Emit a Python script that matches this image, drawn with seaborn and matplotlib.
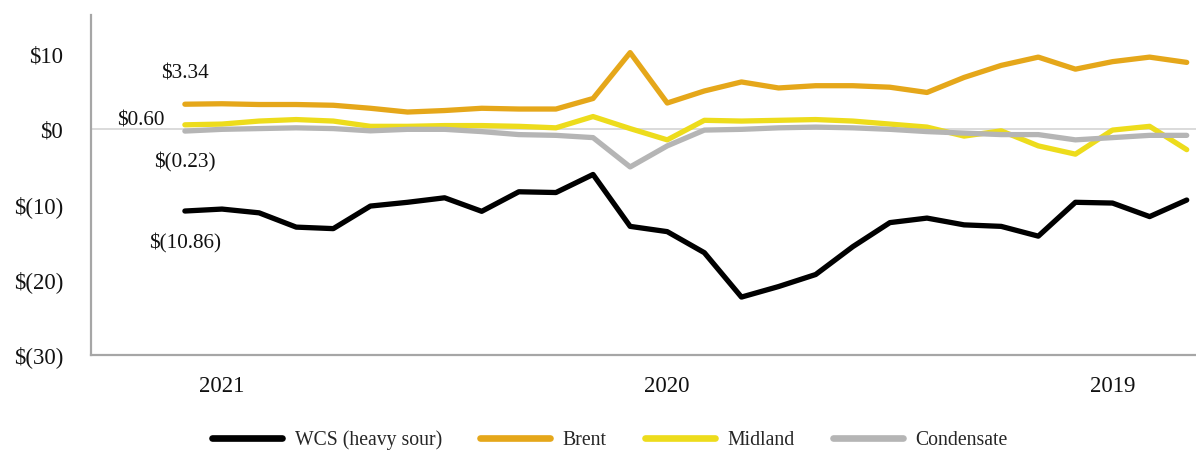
import matplotlib
matplotlib.use("Agg")
import matplotlib.pyplot as plt
import seaborn as sns
import pandas as pd

# Monthly differentials, most recent month first
series_names = ["WCS (heavy sour)", "Brent", "Midland", "Condensate"]

wcs = [-10.86, -10.6, -11.1, -13.0, -13.2, -10.2, -9.7, -9.1, -10.9, -8.3,
       -8.4, -6.0, -12.9, -13.6, -16.4, -22.3, -20.9, -19.3, -15.6, -12.4,
       -11.8, -12.7, -12.9, -14.2, -9.7, -9.8, -11.6, -9.4]
brent = [3.34, 3.4, 3.3, 3.3, 3.2, 2.8, 2.3, 2.5, 2.8, 2.7,
         2.7, 4.1, 10.2, 3.5, 5.1, 6.3, 5.5, 5.8, 5.8, 5.6,
         4.9, 6.9, 8.5, 9.6, 8.0, 9.0, 9.6, 8.9]
midland = [0.60, 0.7, 1.1, 1.3, 1.1, 0.4, 0.4, 0.5, 0.5, 0.4,
           0.2, 1.7, 0.1, -1.4, 1.2, 1.1, 1.2, 1.3, 1.1, 0.7,
           0.3, -0.9, -0.2, -2.2, -3.3, -0.1, 0.4, -2.7]
condensate = [-0.23, 0.0, 0.1, 0.2, 0.1, -0.2, 0.0, 0.0, -0.3, -0.7,
              -0.8, -1.1, -5.0, -2.2, -0.1, 0.0, 0.2, 0.3, 0.2, 0.0,
              -0.3, -0.5, -0.7, -0.7, -1.4, -1.1, -0.8, -0.8]

year_ticks = [1, 13, 25]
year_labels = ["2021", "2020", "2019"]
y_ticks = [-30, -20, -10, 0, 10]
y_labels = ["$(30)", "$(20)", "$(10)", "$0", "$10"]

# Value labels on the first month of each series
first_labels = ["$(10.86)", "$3.34", "$0.60", "$(0.23)"]

colors = ["#000000", "#E5A71A", "#EDDC1C", "#B5B5B5"]

all_values = [wcs, brent, midland, condensate]
frames = []
for name, vals in zip(series_names, all_values):
    frames.append(pd.DataFrame({"month": range(len(vals)), "value": vals, "series": name}))
df = pd.concat(frames, ignore_index=True)

sns.set_theme(style="white")
plt.rcParams["font.family"] = ["Liberation Serif", "DejaVu Serif"]

fig = plt.figure(figsize=(11.96, 4.51), dpi=100)
ax = fig.add_axes([91 / 1196, 1 - 355 / 451, 1 - 91 / 1196, (355 - 15) / 451])

ax.axhline(0, color="#d4d4d4", lw=1.2, zorder=1)

sns.lineplot(data=df, x="month", y="value", hue="series", hue_order=series_names,
             palette=dict(zip(series_names, colors)), linewidth=3.8,
             ax=ax, legend=False, zorder=3)

ax.set_xlim(-2.53, 27.25)
ax.set_ylim(-30, 15.2)

ax.set_yticks(y_ticks)
ax.set_yticklabels(y_labels)
ax.set_xticks(year_ticks)
ax.set_xticklabels(year_labels)
ax.tick_params(axis="y", length=0, pad=20, labelsize=16.5, colors="#111111")
ax.tick_params(axis="x", length=0, pad=15, labelsize=16.5, colors="#111111")
ax.set_xlabel("")
ax.set_ylabel("")

for side in ["top", "right"]:
    ax.spines[side].set_visible(False)
for side in ["left", "bottom"]:
    ax.spines[side].set_color("#a6a6a6")
    ax.spines[side].set_linewidth(1.6)

# Value annotations (offsets in pixels from the first point)
offsets = [(0, -32), (0, 30), (-44, 4), (0, -31)]
for vals, text, off in zip(all_values, first_labels, offsets):
    ax.annotate(text, xy=(0, vals[0]), xytext=off, textcoords="offset pixels",
                ha="center", va="center", fontsize=15.3, color="#111111", zorder=5)

handles = [plt.Line2D([], [], color=c, lw=4.8) for c in colors]
fig.legend(handles, series_names, loc="center", bbox_to_anchor=(0.51, 1 - 440 / 451),
           ncol=4, frameon=False, fontsize=14.2, handlelength=3.55,
           columnspacing=1.95, handletextpad=0.62)

fig.savefig("out.png", dpi=100)
